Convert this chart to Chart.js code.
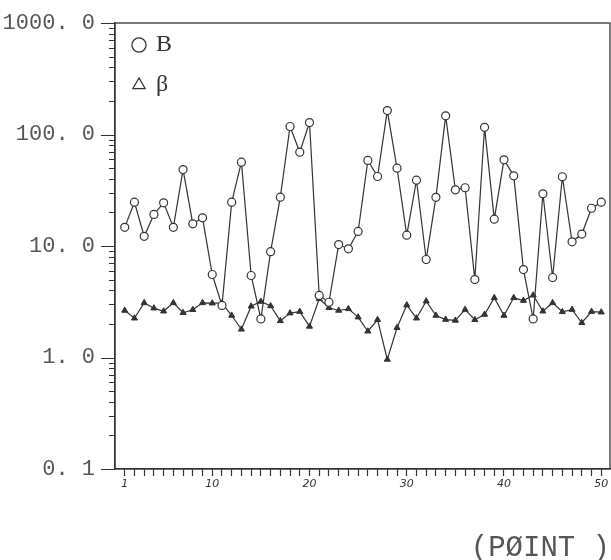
<!DOCTYPE html>
<html>
<head>
<meta charset="utf-8">
<script src="https://cdn.jsdelivr.net/npm/chart.js@4"></script>
<style>
  html, body { margin: 0; padding: 0; background: #fff; }
  #wrap { width: 611px; height: 560px; }
</style>
</head>
<body>
<div id="wrap"><canvas id="myChart" width="611" height="560"></canvas></div>
<script>
// point numbers along the x axis
const points = [];
for (let i = 1; i <= 50; i++) points.push(i);

// series B (circles)
const bValues = [14.7, 24.7, 12.2, 19.2, 24.4, 14.7, 48.5, 15.8, 17.9, 5.55,
                 2.93, 24.7, 56.5, 5.44, 2.22, 8.9, 27.4, 118, 69.4, 128,
                 3.6, 3.13, 10.3, 9.44, 13.5, 58.5, 42, 164, 49.9, 12.5,
                 38.9, 7.57, 27.3, 147, 31.9, 33.3, 5.0, 116, 17.4, 59.3,
                 42.6, 6.15, 2.22, 29.4, 5.22, 41.8, 10.9, 12.8, 21.8, 24.7];

// series beta (triangles)
const betaValues = [2.64, 2.25, 3.09, 2.77, 2.6, 3.09, 2.52, 2.68, 3.09, 3.07,
                    3.07, 2.38, 1.79, 2.88, 3.18, 2.9, 2.13, 2.5, 2.58, 1.9,
                    3.36, 2.79, 2.64, 2.73, 2.3, 1.72, 2.18, 0.96, 1.85, 2.95,
                    2.25, 3.2, 2.38, 2.19, 2.15, 2.69, 2.18, 2.43, 3.43, 2.38,
                    3.43, 3.24, 3.62, 2.6, 3.09, 2.57, 2.69, 2.05, 2.58, 2.55];

// labelled ticks
const yDecades = [0.1, 1, 10, 100, 1000];
const yDecadeLabels = ['0. 1', '1. 0', '10. 0', '100. 0', '1000. 0'];
const xLabelled = [1, 10, 20, 30, 40, 50];

// minor y ticks 2..9 inside each decade
const yTicks = [];
yDecades.forEach((d, i) => {
  yTicks.push(d);
  if (i < yDecades.length - 1) {
    for (let m = 2; m <= 9; m++) yTicks.push(+(d * m).toPrecision(3));
  }
});

const ink = '#333';

// frame around the plot + y tick marks (long at decades, short between)
const framePlugin = {
  id: 'frame',
  afterLayout(chart) {
    // pull the legend up into the corner of the plot
    const lg = chart.legend;
    if (lg) { lg.top = chart.chartArea.top - 6; lg.left = chart.chartArea.left + 3; }
  },
  afterDraw(chart) {
    const { ctx, chartArea: a, scales } = chart;
    ctx.save();
    ctx.strokeStyle = ink;
    ctx.lineWidth = 1.3;
    ctx.strokeRect(a.left, a.top, a.right - a.left, a.bottom - a.top);
    ctx.lineWidth = 1.2;
    ctx.beginPath();
    yTicks.forEach(v => {
      const y = Math.round(scales.y.getPixelForValue(v)) + 0.5;
      const len = yDecades.includes(v) ? 14 : 6;
      ctx.moveTo(a.left - len, y);
      ctx.lineTo(a.left, y);
    });
    ctx.stroke();
    ctx.restore();
  }
};

const ctx = document.getElementById('myChart').getContext('2d');
const myChart = new Chart(ctx, {
  type: 'line',
  data: {
    datasets: [{
      label: 'B',
      data: points.map((p, i) => ({ x: p, y: bValues[i] })),
      borderColor: ink,
      backgroundColor: '#fff',
      borderWidth: 1.2,
      pointStyle: 'circle',
      pointRadius: 4,
      pointBorderWidth: 1.2,
      tension: 0
    }, {
      label: 'β',
      data: points.map((p, i) => ({ x: p, y: betaValues[i] })),
      borderColor: ink,
      backgroundColor: ink,
      borderWidth: 1.2,
      pointStyle: 'triangle',
      pointRadius: 3.5,
      pointBorderWidth: 1,
      tension: 0
    }]
  },
  options: {
    responsive: false,
    animation: false,
    layout: { autoPadding: false, padding: { top: 23, right: 1, left: 0, bottom: 0 } },
    scales: {
      x: {
        type: 'linear',
        min: 0,
        max: 50.9,
        afterBuildTicks: (scale) => { scale.ticks = points.map(v => ({ value: v })); },
        afterFit: (scale) => { scale.height = 91; },
        grid: { drawOnChartArea: false, drawTicks: true, tickLength: 7, tickColor: ink, tickWidth: 1.2 },
        border: { display: true, color: ink, width: 1.3 },
        ticks: {
          autoSkip: false,
          maxRotation: 0,
          padding: 2,
          color: ink,
          font: { family: 'DejaVu Sans', size: 11, style: 'italic' },
          callback: (v) => xLabelled.includes(v) ? String(v) : ''
        },
        title: {
          display: true,
          text: '(PØINT )',
          align: 'end',
          color: '#555',
          font: { family: 'Liberation Mono', size: 29, lineHeight: 0.8 },
          padding: { top: 0, bottom: 0 }
        }
      },
      y: {
        type: 'logarithmic',
        min: 0.1,
        max: 1000,
        afterBuildTicks: (scale) => { scale.ticks = yTicks.map(v => ({ value: v })); },
        afterFit: (scale) => { scale.width = 115; },
        // tick marks are drawn by the frame plugin; this only spaces the labels
        grid: { drawOnChartArea: false, drawTicks: true, tickLength: 20, tickColor: 'rgba(0,0,0,0)' },
        border: { display: true, color: ink, width: 1.3 },
        ticks: {
          autoSkip: false,
          padding: 0,
          color: '#555',
          font: { family: 'Liberation Mono', size: 22 },
          callback: (v) => {
            const i = yDecades.indexOf(v);
            return i >= 0 ? yDecadeLabels[i] : '';
          }
        }
      }
    },
    plugins: {
      tooltip: { enabled: false },
      legend: {
        position: 'chartArea',
        align: 'start',
        labels: {
          usePointStyle: true,
          boxWidth: 10,
          boxHeight: 10,
          padding: 16,
          color: ink,
          font: { family: 'Liberation Serif', size: 24 },
          generateLabels: (chart) => {
            const items = Chart.defaults.plugins.legend.labels.generateLabels(chart);
            items.forEach(it => { it.fillStyle = '#fff'; it.lineWidth = 1.3; });
            return items;
          }
        }
      }
    }
  },
  plugins: [framePlugin]
});
</script>
</body>
</html>
